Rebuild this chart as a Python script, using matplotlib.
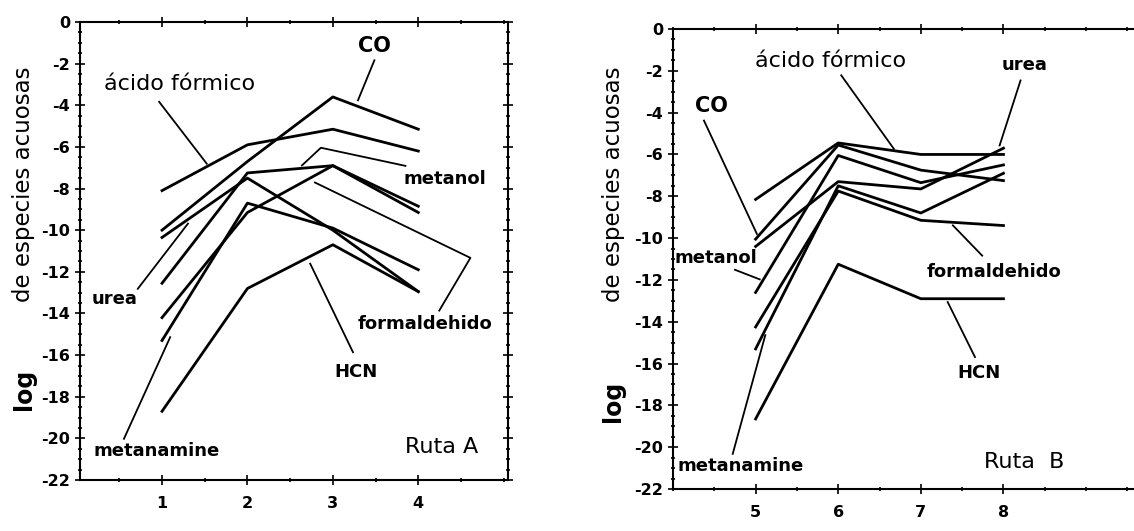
import matplotlib
matplotlib.use("Agg")
import matplotlib.pyplot as plt
from matplotlib.ticker import MultipleLocator

plt.rcParams['font.family'] = ['DejaVu Sans']
plt.rcParams['axes.unicode_minus'] = False

# etapas de cada ruta
x_a = [1, 2, 3, 4]
x_b = [5, 6, 7, 8]

# Ruta A: log de concentracion de cada especie
co_a = [-10.0, -6.7, -3.6, -5.15]
acido_a = [-8.1, -5.9, -5.15, -6.2]
urea_a = [-10.35, -7.5, -10.0, -12.95]
metanol_a = [-12.55, -7.25, -6.9, -8.85]
formaldehido_a = [-14.2, -9.15, -6.9, -9.15]
metanamine_a = [-15.3, -8.7, -9.9, -11.9]
hcn_a = [-18.7, -12.8, -10.7, -12.95]

# Ruta B
co_b = [-10.05, -5.55, -6.75, -7.25]
acido_b = [-8.15, -5.45, -6.0, -6.0]
urea_b = [-10.4, -7.3, -7.65, -5.7]
metanol_b = [-12.6, -6.05, -7.35, -6.5]
formaldehido_b = [-14.25, -7.75, -9.15, -9.4]
metanamine_b = [-15.3, -7.5, -8.8, -6.9]
hcn_b = [-18.65, -11.25, -12.9, -12.9]

yticks = [0, -2, -4, -6, -8, -10, -12, -14, -16, -18, -20, -22]

W, H = 1134, 531
fig = plt.figure(figsize=(W / 100, H / 100), dpi=100)
ax_a = fig.add_axes([80 / W, 1 - 480 / H, 428 / W, 458 / H])
ax_b = fig.add_axes([673 / W, 1 - 489 / H, 480 / W, 460 / H])


def setup(ax, xs, xlim):
    ax.set_xlim(*xlim)
    ax.set_ylim(-22, 0)
    ax.set_xticks(xs)
    ax.set_yticks(yticks)
    ax.set_yticklabels([str(v) for v in yticks])
    ax.xaxis.set_minor_locator(MultipleLocator(0.5))
    ax.yaxis.set_minor_locator(MultipleLocator(0.5))
    ax.tick_params(which='both', direction='inout', top=True, right=True,
                   width=1.2, labelsize=11.5)
    ax.tick_params(which='major', length=7)
    ax.tick_params(which='minor', length=3)
    ax.tick_params(axis='x', pad=8)
    for lab in ax.get_xticklabels() + ax.get_yticklabels():
        lab.set_fontweight('bold')
    for s in ax.spines.values():
        s.set_linewidth(1.5)


def leader(ax, xs, ys):
    ax.plot(xs, ys, color='black', lw=1.3, solid_capstyle='butt')


setup(ax_a, x_a, (0.04, 5.05))
setup(ax_b, x_b, (4.0, 9.81))

for ys in [co_a, acido_a, urea_a, metanol_a, formaldehido_a, metanamine_a, hcn_a]:
    ax_a.plot(x_a, ys, color='black', lw=2.0)
for ys in [co_b, acido_b, urea_b, metanol_b, formaldehido_b, metanamine_b, hcn_b]:
    ax_b.plot(x_b, ys, color='black', lw=2.0)

lab = dict(fontsize=13, fontweight='bold', ha='center', va='center')

# etiquetas Ruta A
ax_a.text(3.49, -1.15, 'CO', fontsize=15, fontweight='bold', ha='center', va='center')
leader(ax_a, [3.49, 3.29], [-1.8, -3.8])
ax_a.text(1.2, -3.0, 'ácido fórmico', fontsize=16, ha='center', va='center')
leader(ax_a, [0.96, 1.53], [-3.8, -6.84])
ax_a.text(4.31, -7.56, 'metanol', **lab)
leader(ax_a, [3.86, 2.86, 2.63], [-6.92, -6.04, -6.92])
ax_a.text(0.45, -13.3, 'urea', **lab)
leader(ax_a, [0.71, 1.31], [-12.85, -9.65])
ax_a.text(4.08, -14.5, 'formaldehido', **lab)
leader(ax_a, [4.24, 4.61, 2.78], [-13.9, -11.33, -7.69])
ax_a.text(3.27, -16.8, 'HCN', **lab)
leader(ax_a, [3.24, 2.73], [-15.9, -11.57])
ax_a.text(0.94, -20.6, 'metanamine', **lab)
leader(ax_a, [0.55, 1.1], [-20.06, -15.1])
ax_a.text(4.27, -20.4, 'Ruta A', fontsize=16, ha='center', va='center')

# etiquetas Ruta B
ax_b.text(5.91, -1.55, 'ácido fórmico', fontsize=16, ha='center', va='center')
leader(ax_b, [6.03, 6.68], [-2.18, -5.77])
ax_b.text(8.25, -1.7, 'urea', **lab)
leader(ax_b, [8.21, 7.95], [-2.42, -5.61])
ax_b.text(4.46, -3.7, 'CO', fontsize=15, fontweight='bold', ha='center', va='center')
leader(ax_b, [4.37, 5.02], [-4.34, -9.84])
ax_b.text(4.52, -10.95, 'metanol', **lab)
leader(ax_b, [4.74, 5.06], [-11.5, -11.99])
ax_b.text(7.89, -11.6, 'formaldehido', **lab)
leader(ax_b, [7.75, 7.38], [-10.87, -9.36])
ax_b.text(7.7, -16.45, 'HCN', **lab)
leader(ax_b, [7.66, 7.32], [-15.73, -13.02])
ax_b.text(4.82, -20.9, 'metanamine', **lab)
leader(ax_b, [4.72, 5.12], [-20.36, -14.6])
ax_b.text(8.25, -20.7, 'Ruta  B', fontsize=16, ha='center', va='center')

# titulo del eje y: "log" en negrita, separado del resto
for xpix, log_y, rest_y in [(24, 389, 184), (613, 401, 184)]:
    fig.text(xpix / W, 1 - log_y / H, 'log', rotation=90, fontsize=17,
             fontweight='bold', ha='center', va='center')
    fig.text(xpix / W, 1 - rest_y / H, 'de especies acuosas', rotation=90,
             fontsize=16.5, ha='center', va='center')

fig.savefig('out.png', dpi=100)
